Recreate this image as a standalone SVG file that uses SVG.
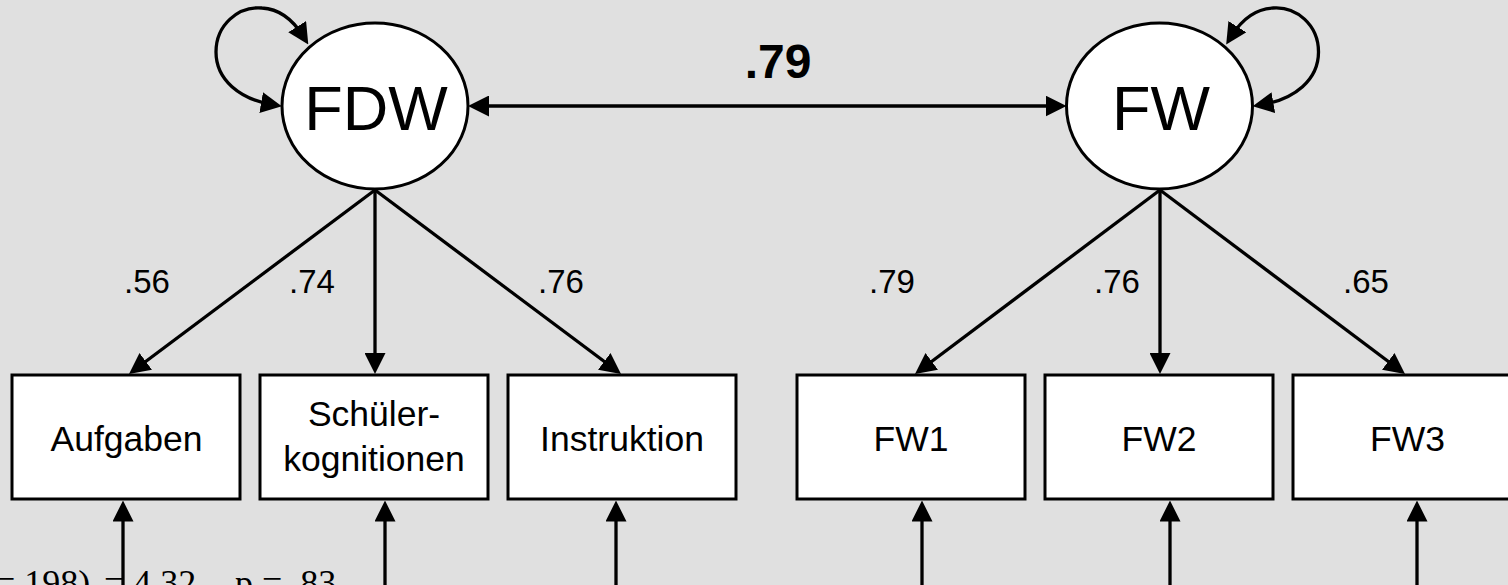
<svg xmlns="http://www.w3.org/2000/svg" width="1508" height="585" viewBox="0 0 1508 585">
  <style>
    .latent { fill: #ffffff; stroke: #000000; stroke-width: 3; }
    .manifest { fill: #ffffff; stroke: #000000; stroke-width: 3; }
    .edge { fill: none; stroke: #000000; stroke-width: 3.3; }
    .sans { font-family: "Liberation Sans", Arial, sans-serif; fill: #000000; text-anchor: middle; }
    .latent-label { font-size: 63px; }
    .item-label { font-size: 35.5px; }
    .loading { font-size: 33px; }
    .corr { font-size: 48px; font-weight: bold; }
    .fit { font-family: "Liberation Serif", "Times New Roman", serif; font-size: 36px; fill: #000000; }
  </style>
  <defs>
    <!-- filled arrowhead; tip sits 10px beyond the path end -->
    <marker id="arrow" viewBox="0 0 21 21" markerWidth="21" markerHeight="21" markerUnits="userSpaceOnUse" refX="11" refY="10.5" orient="auto-start-reverse">
      <path d="M0,0 L21,10.5 L0,21 Z" fill="#000000"/>
    </marker>
  </defs>

  <rect x="0" y="0" width="1508" height="585" fill="#e0e0e0"/>

  <!-- fit statistics, clipped at the bottom edge -->
  <text class="fit" y="595"><tspan x="-5">= 198)</tspan><tspan x="104">= 4.32,</tspan><tspan x="235">p = .83</tspan></text>

  <g id="connectors">
    <!-- latent correlation -->
    <path class="edge" d="M478,106 L1056.5,106" marker-start="url(#arrow)" marker-end="url(#arrow)"/>
    <!-- variances -->
    <path class="edge" d="M303,36 C293,20 280,9 262,8 C238,6 216,25 216,52 C216,80 240,99 272,104.6" marker-start="url(#arrow)" marker-end="url(#arrow)"/>
    <path class="edge" d="M1231.5,36 C1241.5,20 1254.5,9 1272.5,8 C1296.5,6 1318.5,25 1318.5,52 C1318.5,80 1294.5,99 1262.5,104.6" marker-start="url(#arrow)" marker-end="url(#arrow)"/>
    <!-- loadings FDW -->
    <path class="edge" d="M375,190 L137,368" marker-end="url(#arrow)"/>
    <path class="edge" d="M375,190 L375,364" marker-end="url(#arrow)"/>
    <path class="edge" d="M375,190 L613,368" marker-end="url(#arrow)"/>
    <!-- loadings FW -->
    <path class="edge" d="M1160,190 L923,368" marker-end="url(#arrow)"/>
    <path class="edge" d="M1160,190 L1160,364" marker-end="url(#arrow)"/>
    <path class="edge" d="M1160,190 L1397,368" marker-end="url(#arrow)"/>
    <!-- residuals -->
    <path class="edge" d="M123,585 L123,510.5" marker-end="url(#arrow)"/>
    <path class="edge" d="M385,585 L385,510.5" marker-end="url(#arrow)"/>
    <path class="edge" d="M616,585 L616,510.5" marker-end="url(#arrow)"/>
    <path class="edge" d="M922,585 L922,510.5" marker-end="url(#arrow)"/>
    <path class="edge" d="M1170,585 L1170,510.5" marker-end="url(#arrow)"/>
    <path class="edge" d="M1417,585 L1417,510.5" marker-end="url(#arrow)"/>
  </g>

  <g id="edge-labels">
    <text class="sans corr" x="778" y="78">.79</text>
    <text class="sans loading" x="147" y="293">.56</text>
    <text class="sans loading" x="312" y="293">.74</text>
    <text class="sans loading" x="561" y="293">.76</text>
    <text class="sans loading" x="892" y="293">.79</text>
    <text class="sans loading" x="1117" y="293">.76</text>
    <text class="sans loading" x="1366" y="293">.65</text>
  </g>

  <g id="FDW">
    <ellipse class="latent" cx="375" cy="106" rx="93" ry="83"/>
    <text class="sans latent-label" x="376" y="130">FDW</text>
  </g>
  <g id="FW">
    <ellipse class="latent" cx="1159.5" cy="106" rx="93" ry="83"/>
    <text class="sans latent-label" x="1161" y="130">FW</text>
  </g>

  <g id="Aufgaben">
    <rect class="manifest" x="12" y="375" width="228" height="124"/>
    <text class="sans item-label" x="126.5" y="451">Aufgaben</text>
  </g>
  <g id="Schuelerkognitionen">
    <rect class="manifest" x="260" y="375" width="228" height="124"/>
    <text class="sans item-label" x="374" y="426">Schüler-</text>
    <text class="sans item-label" x="374" y="471">kognitionen</text>
  </g>
  <g id="Instruktion">
    <rect class="manifest" x="508" y="375" width="228" height="124"/>
    <text class="sans item-label" x="622" y="451">Instruktion</text>
  </g>
  <g id="FW1">
    <rect class="manifest" x="797" y="375" width="228" height="124"/>
    <text class="sans item-label" x="911" y="451">FW1</text>
  </g>
  <g id="FW2">
    <rect class="manifest" x="1045" y="375" width="228" height="124"/>
    <text class="sans item-label" x="1159" y="451">FW2</text>
  </g>
  <g id="FW3">
    <rect class="manifest" x="1293" y="375" width="228" height="124"/>
    <text class="sans item-label" x="1407.5" y="451">FW3</text>
  </g>
</svg>
